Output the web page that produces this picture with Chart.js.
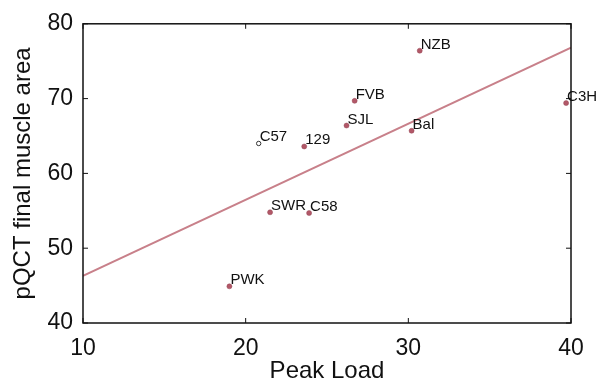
<!DOCTYPE html>
<html>
<head>
<meta charset="utf-8">
<script src="https://cdn.jsdelivr.net/npm/chart.js@4"></script>
<style>
  html,body{margin:0;padding:0;background:#fff;}
  #wrap{width:596px;height:387px;}
</style>
</head>
<body>
<div id="wrap"><canvas id="chart"></canvas></div>
<script>
// strains, peak load (x) and pQCT final muscle area (y)
const strains   = ['NZB','FVB','C3H','SJL','Bal','129','SWR','C58','PWK'];
const peakLoad  = [30.7, 26.7, 39.7, 26.2, 30.2, 23.6, 21.5, 23.9, 19.0];
const muscleArea= [76.4, 69.7, 69.4, 66.4, 65.7, 63.6, 54.8, 54.7, 44.9];

// open-circle strain
const openStrain = ['C57'];
const openLoad   = [20.8];
const openArea   = [64.0];

// fitted line end points
const fitX = [10, 40];
const fitY = [46.3, 76.8];

const xTicks = [10, 20, 30, 40];
const yTicks = [40, 50, 60, 70, 80];

const FONT = "'Liberation Sans', Arial, Helvetica, sans-serif";

// labels next to points, box and inward ticks
const extras = {
  id:'extras',
  afterDatasetsDraw(chart){
    const c = chart.ctx;
    c.save();
    c.font = '15px ' + FONT;
    c.fillStyle = '#111';
    c.textBaseline = 'alphabetic';
    [[0, strains],[1, openStrain]].forEach(([di, names])=>{
      chart.getDatasetMeta(di).data.forEach((el,i)=>{
        c.fillText(names[i], el.x + 1, el.y - 2);
      });
    });

    const a = chart.chartArea, xs = chart.scales.x, ys = chart.scales.y;
    c.strokeStyle = '#111';
    c.lineWidth = 1.5;
    c.strokeRect(a.left, a.top, a.right - a.left, a.bottom - a.top);
    c.lineWidth = 1;
    c.beginPath();
    xTicks.forEach(v=>{
      const px = xs.getPixelForValue(v);
      c.moveTo(px, a.bottom); c.lineTo(px, a.bottom - 5);
      c.moveTo(px, a.top);    c.lineTo(px, a.top + 5);
    });
    yTicks.forEach(v=>{
      const py = ys.getPixelForValue(v);
      c.moveTo(a.left, py);  c.lineTo(a.left + 5, py);
      c.moveTo(a.right, py); c.lineTo(a.right - 5, py);
    });
    c.stroke();
    c.restore();
  }
};

new Chart(document.getElementById('chart'), {
  type:'scatter',
  data:{
    datasets:[
      {
        data: peakLoad.map((x,i)=>({x, y:muscleArea[i]})),
        backgroundColor:'rgb(178,88,104)',
        borderColor:'rgb(150,70,85)',
        borderWidth:0.5,
        pointRadius:2.5
      },
      {
        data: openLoad.map((x,i)=>({x, y:openArea[i]})),
        backgroundColor:'#fff',
        borderColor:'#333',
        borderWidth:1,
        pointRadius:2.2
      },
      {
        type:'line',
        data: fitX.map((x,i)=>({x, y:fitY[i]})),
        borderColor:'rgb(200,128,138)',
        borderWidth:2,
        pointRadius:0,
        fill:false
      }
    ]
  },
  options:{
    responsive:true,
    maintainAspectRatio:false,
    animation:false,
    layout:{padding:{top:21, right:25, left:0, bottom:0}},
    plugins:{legend:{display:false}, tooltip:{enabled:false}},
    scales:{
      x:{
        type:'linear', min:10, max:40,
        afterBuildTicks(s){ s.ticks = xTicks.map(v=>({value:v})); },
        afterFit(s){ s.height = 64; },
        grid:{display:false, drawTicks:false},
        border:{display:false},
        ticks:{color:'#111', padding:12, font:{family:FONT, size:23}, maxRotation:0},
        title:{display:true, text:'Peak Load', color:'#111', font:{family:FONT, size:24}, padding:{top:0,bottom:1}}
      },
      y:{
        type:'linear', min:40, max:80,
        afterBuildTicks(s){ s.ticks = yTicks.map(v=>({value:v})); },
        afterFit(s){ s.width = 83; },
        grid:{display:false, drawTicks:false},
        border:{display:false},
        ticks:{color:'#111', padding:10, font:{family:FONT, size:23}},
        title:{display:true, text:'pQCT final muscle area', color:'#111', font:{family:FONT, size:24}, padding:{top:9,bottom:0}}
      }
    }
  },
  plugins:[extras]
});
</script>
</body>
</html>
